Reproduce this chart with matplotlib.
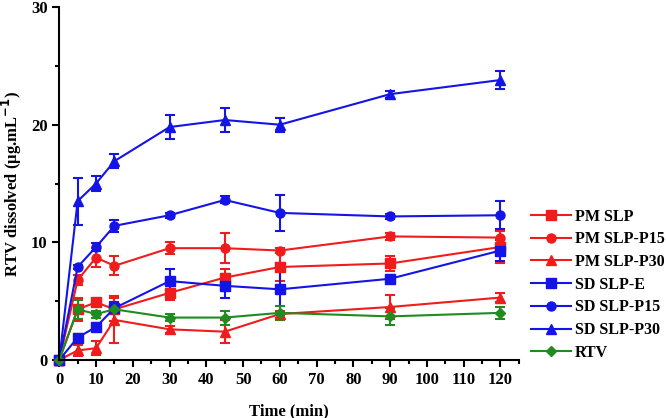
import matplotlib.pyplot as plt
from matplotlib.lines import Line2D
from matplotlib.ticker import MultipleLocator

# sampling times (min)
time = [0, 5, 10, 15, 30, 45, 60, 90, 120]

# RTV dissolved (ug/mL), mean and SD
pm_slp = [0, 4.3, 4.9, 4.3, 5.7, 7.0, 7.9, 8.2, 9.6]
pm_slp_err = [0, 1.0, 0.3, 1.0, 0.6, 0.7, 1.2, 0.6, 1.4]
pm_p15 = [0, 6.8, 8.7, 8.0, 9.5, 9.5, 9.3, 10.5, 10.4]
pm_p15_err = [0, 0.4, 0.8, 0.8, 0.5, 1.3, 0.2, 0.3, 0.6]
pm_p30 = [0, 0.8, 1.0, 3.4, 2.6, 2.4, 3.9, 4.5, 5.3]
pm_p30_err = [0, 0.5, 0.6, 2.0, 0.3, 1.0, 0.3, 1.0, 0.4]
sd_e = [0, 1.9, 2.8, 4.4, 6.7, 6.3, 6.0, 6.9, 9.3]
sd_e_err = [0, 0.3, 0.2, 0.5, 1.0, 1.0, 2.2, 0.3, 0.9]
sd_p15 = [0, 7.9, 9.6, 11.4, 12.3, 13.6, 12.5, 12.2, 12.3]
sd_p15_err = [0, 0.2, 0.3, 0.5, 0.2, 0.3, 1.5, 0.2, 1.2]
sd_p30 = [0, 13.5, 15.0, 16.9, 19.8, 20.4, 20.0, 22.6, 23.8]
sd_p30_err = [0, 2.0, 0.6, 0.6, 1.0, 1.0, 0.6, 0.3, 0.8]
rtv = [0, 4.3, 3.9, 4.3, 3.6, 3.6, 4.0, 3.7, 4.0]
rtv_err = [0, 0.8, 0.3, 0.3, 0.3, 0.6, 0.6, 0.7, 0.5]

labels = ["PM SLP", "PM SLP-P15", "PM SLP-P30", "SD SLP-E",
          "SD SLP-P15", "SD SLP-P30", "RTV"]

red, blue, green = "#f01c1c", "#1414e6", "#1e8c1e"
series = [
    (pm_slp, pm_slp_err, red, "s"),
    (pm_p15, pm_p15_err, red, "o"),
    (pm_p30, pm_p30_err, red, "^"),
    (sd_e, sd_e_err, blue, "s"),
    (sd_p15, sd_p15_err, blue, "o"),
    (sd_p30, sd_p30_err, blue, "^"),
    (rtv, rtv_err, green, "D"),
]

plt.rcParams["font.family"] = ["Liberation Serif", "DejaVu Serif"]
plt.rcParams["font.weight"] = "bold"
plt.rcParams["mathtext.default"] = "bf"

fig = plt.figure(figsize=(6.66, 4.18), dpi=100)
ax = fig.add_axes([0.089, 0.139, 0.69, 0.844])

handles = []
for (y, err, c, m), lab in zip(series, labels):
    ms = 5.5 if m == "D" else 6.5
    ax.errorbar(time, y, yerr=err, color=c, marker=m, ms=ms, lw=1.5,
                elinewidth=1.5, capsize=3.5, capthick=1.5, clip_on=False)
    # legend shows line + marker only
    handles.append(Line2D([], [], color=c, marker=m, ms=ms, lw=1.5))

ax.set_xlim(0, 125)
ax.set_ylim(0, 30)
ax.xaxis.set_minor_locator(MultipleLocator(5))
ax.yaxis.set_major_locator(MultipleLocator(10))
ax.yaxis.set_minor_locator(MultipleLocator(5))
ax.set_xticks(range(0, 121, 10))
ax.tick_params(which="major", direction="out", length=5, width=1.5,
               labelsize=12)
ax.tick_params(which="minor", direction="out", length=3, width=1.5)
for s in ("top", "right"):
    ax.spines[s].set_visible(False)
for s in ("left", "bottom"):
    ax.spines[s].set_linewidth(1.5)

ax.set_xlabel("Time (min)", fontsize=12, fontweight="bold")
ax.xaxis.set_label_coords(0.5, -0.122)
ax.set_ylabel("RTV dissolved (\u00b5g.mL$^{-1}$)", fontsize=12,
              fontweight="bold", labelpad=5)

leg = fig.legend(handles=handles, labels=labels, loc="upper left",
                 bbox_to_anchor=(0.786, 0.52), frameon=False,
                 fontsize=11.5, handlelength=2.5, handletextpad=0.2,
                 labelspacing=0.42, borderpad=0)
for t in leg.get_texts():
    t.set_fontweight("bold")

fig.savefig("out.png", dpi=100)
